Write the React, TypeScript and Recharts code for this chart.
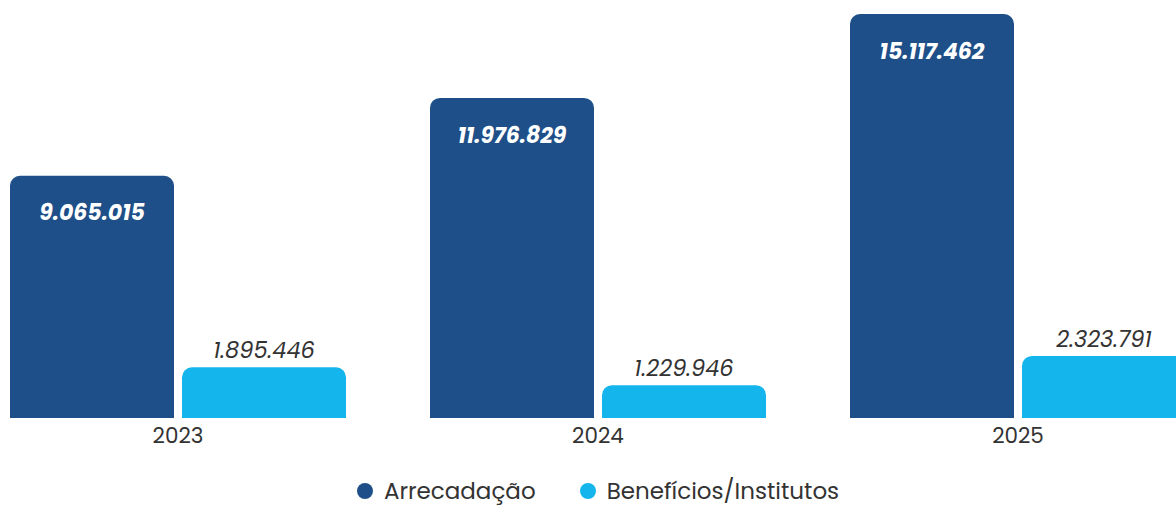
import { BarChart, Bar, XAxis, YAxis, Legend, LabelList } from 'recharts'

const FONT = 'Poppins, Inter, "Noto Sans", sans-serif'

const years = ['2023', '2024', '2025']
const arrecadacao = [9065015, 11976829, 15117462]
const beneficios = [1895446, 1229946, 2323791]

const seriesNames = { arrecadacao: 'Arrecadação', beneficios: 'Benefícios/Institutos' }
const colors = { arrecadacao: '#1e4f88', beneficios: '#14b4ec' }

const data = years.map((year, i) => ({
  year,
  arrecadacao: arrecadacao[i],
  beneficios: beneficios[i],
}))

const formatBR = (v: unknown) => Number(v ?? 0).toLocaleString('pt-BR')

function LegendContent() {
  const items = [
    { label: seriesNames.arrecadacao, color: colors.arrecadacao },
    { label: seriesNames.beneficios, color: colors.beneficios },
  ]
  return (
    <div
      style={{
        height: 52,
        display: 'flex',
        justifyContent: 'center',
        alignItems: 'flex-start',
        gap: 44,
        paddingTop: 27,
        boxSizing: 'border-box',
      }}
    >
      {items.map(it => (
        <span
          key={it.label}
          style={{
            display: 'inline-flex',
            alignItems: 'center',
            gap: 11,
            fontFamily: FONT,
            fontSize: 23,
            color: '#333',
            lineHeight: '24px',
          }}
        >
          <span
            style={{ width: 16, height: 16, borderRadius: '50%', background: it.color, display: 'inline-block' }}
          />
          {it.label}
        </span>
      ))}
    </div>
  )
}

export default function App() {
  return (
    <div
      style={{
        position: 'absolute',
        left: 0,
        top: 0,
        width: 1176,
        height: 506,
        overflow: 'hidden',
        background: '#fff',
      }}
    >
      <div style={{ marginLeft: -32 }}>
        <BarChart
          width={1260}
          height={506}
          data={data}
          margin={{ top: 0, right: 0, bottom: 2, left: 0 }}
          barCategoryGap="10%"
          barGap={8}
        >
          <XAxis
            dataKey="year"
            axisLine={false}
            tickLine={false}
            height={34}
            tickMargin={4}
            tick={{ fill: '#333', fontSize: 21.5, fontFamily: FONT }}
          />
          <YAxis hide domain={[0, 15640000]} />
          <Legend verticalAlign="bottom" content={<LegendContent />} />
          <Bar
            dataKey="arrecadacao"
            name={seriesNames.arrecadacao}
            fill={colors.arrecadacao}
            radius={[10, 10, 0, 0]}
            isAnimationActive={false}
          >
            <LabelList
              dataKey="arrecadacao"
              position="insideTop"
              offset={29}
              formatter={formatBR}
              fill="#fff"
              fontSize={22}
              fontWeight={700}
              fontStyle="italic"
              fontFamily={FONT}
            />
          </Bar>
          <Bar
            dataKey="beneficios"
            name={seriesNames.beneficios}
            fill={colors.beneficios}
            radius={[10, 10, 0, 0]}
            isAnimationActive={false}
          >
            <LabelList
              dataKey="beneficios"
              position="top"
              offset={9}
              formatter={formatBR}
              fill="#333"
              fontSize={22.5}
              fontStyle="italic"
              fontFamily={FONT}
            />
          </Bar>
        </BarChart>
      </div>
    </div>
  )
}
